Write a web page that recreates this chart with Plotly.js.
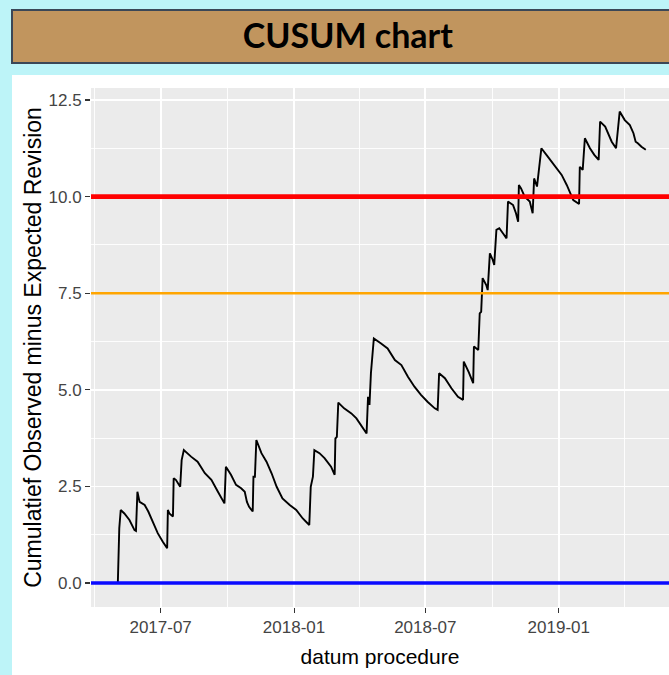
<!DOCTYPE html>
<html>
<head>
<meta charset="utf-8">
<script src="https://cdn.plot.ly/plotly-3.0.1.min.js"></script>
<style>
html, body { margin: 0; padding: 0; background: #bdf4f8; overflow: hidden; }
#chart { width: 669px; height: 675px; }
</style>
</head>
<body>
<div id="chart"></div>
<script>
// ---- data ----
const procedureDates = [
  '2017-05-03','2017-05-04','2017-05-05','2017-05-07','2017-05-12','2017-05-19','2017-05-26','2017-05-28',
  '2017-05-30','2017-06-02','2017-06-09','2017-06-14','2017-06-20','2017-06-27','2017-07-04','2017-07-10',
  '2017-07-11','2017-07-13','2017-07-18','2017-07-19','2017-07-22','2017-07-26','2017-07-28','2017-07-30',
  '2017-08-02','2017-08-12','2017-08-21','2017-08-31','2017-09-09','2017-09-18','2017-09-27','2017-09-29',
  '2017-10-06','2017-10-13','2017-10-20','2017-10-25','2017-10-28','2017-10-31','2017-11-05','2017-11-06',
  '2017-11-08','2017-11-10','2017-11-17','2017-11-24','2017-12-01','2017-12-08','2017-12-16','2017-12-26',
  '2018-01-04','2018-01-13','2018-01-22','2018-01-24','2018-01-27','2018-01-29','2018-02-05','2018-02-12',
  '2018-02-21','2018-02-26','2018-02-27','2018-03-01','2018-03-03','2018-03-11','2018-03-21','2018-03-28',
  '2018-04-04','2018-04-11','2018-04-13','2018-04-15','2018-04-17','2018-04-21','2018-05-01','2018-05-10',
  '2018-05-20','2018-05-29','2018-06-07','2018-06-16','2018-06-25','2018-07-04','2018-07-14','2018-07-18',
  '2018-07-20','2018-07-28','2018-08-06','2018-08-15','2018-08-22','2018-08-23','2018-08-30','2018-09-05',
  '2018-09-06','2018-09-12','2018-09-14','2018-09-16','2018-09-18','2018-09-23','2018-09-25','2018-09-28',
  '2018-10-02','2018-10-04','2018-10-07','2018-10-11','2018-10-16','2018-10-21','2018-10-23','2018-10-30',
  '2018-11-03','2018-11-06','2018-11-07','2018-11-10','2018-11-15','2018-11-22','2018-11-26','2018-11-28',
  '2018-12-02','2018-12-05','2018-12-08','2018-12-15','2018-12-22','2018-12-29','2019-01-05','2019-01-12',
  '2019-01-16','2019-01-21','2019-01-29','2019-01-30','2019-02-03','2019-02-06','2019-02-13','2019-02-19',
  '2019-02-25','2019-02-27','2019-03-06','2019-03-10','2019-03-15','2019-03-21','2019-03-23','2019-03-26',
  '2019-04-02','2019-04-09','2019-04-14','2019-04-17','2019-04-20','2019-04-25','2019-05-01'
];
const cusumValues = [
  0.00, 0.94, 1.42, 1.89, 1.80, 1.63, 1.37, 1.35,
  2.36, 2.10, 2.02, 1.85, 1.59, 1.29, 1.07, 0.90,
  1.89, 1.80, 1.72, 2.71, 2.67, 2.54, 2.49, 3.18,
  3.44, 3.27, 3.14, 2.84, 2.67, 2.36, 2.06, 3.01,
  2.80, 2.54, 2.45, 2.36, 2.10, 1.97, 1.85, 2.75,
  2.75, 3.70, 3.36, 3.14, 2.84, 2.49, 2.19, 2.02,
  1.89, 1.67, 1.50, 2.49, 2.75, 3.44, 3.36, 3.23,
  3.01, 2.80, 3.74, 3.78, 4.67, 4.52, 4.39, 4.26,
  4.05, 3.87, 4.82, 4.61, 5.43, 6.33, 6.20, 6.07,
  5.77, 5.64, 5.34, 5.08, 4.87, 4.69, 4.52, 4.48,
  5.43, 5.30, 5.04, 4.82, 4.74, 5.73, 5.45, 5.17,
  6.12, 6.03, 6.98, 7.02, 7.89, 7.71, 7.58, 8.53,
  8.36, 8.23, 9.14, 9.18, 9.05, 8.92, 9.87, 9.78,
  9.57, 9.35, 10.30, 10.21, 10.00, 9.87, 9.57, 10.47,
  10.26, 10.77, 11.25, 11.08, 10.90, 10.73, 10.56, 10.30,
  10.13, 9.91, 9.81, 10.77, 10.69, 11.51, 11.25, 11.08,
  10.95, 11.94, 11.81, 11.64, 11.42, 11.25, 11.64, 12.20,
  11.98, 11.85, 11.64, 11.42, 11.38, 11.29, 11.21
];
const limitLevels = [0, 7.5, 10];
const xAxisRange = ['2017-03-27', '2019-06-02'];
const yAxisRange = [-0.621, 12.81];
const yTicks = [0, 2.5, 5, 7.5, 10, 12.5];
const chartTitle = 'CUSUM chart';
const xTitle = 'datum procedure';
const yTitle = 'Cumulatief Observed minus Expected Revision';

// ---- styles ----
const limitColors = ['#0a0aff', '#ffa500', '#ff0000'];
const limitWidths = [3.6, 2.4, 4.6];
const axisFont = 'Liberation Sans, Arial, sans-serif';

const traces = [{
  type: 'scatter', mode: 'lines',
  x: procedureDates, y: cusumValues,
  line: {color: '#000000', width: 1.9},
  hoverinfo: 'skip'
}];
limitLevels.forEach((lv, i) => {
  traces.push({
    type: 'scatter', mode: 'lines',
    x: xAxisRange, y: [lv, lv],
    line: {color: limitColors[i], width: limitWidths[i]},
    hoverinfo: 'skip'
  });
});

const layout = {
  width: 669, height: 675,
  margin: {l: 91, r: 0, t: 88, b: 68, pad: 0},
  paper_bgcolor: '#ffffff',
  plot_bgcolor: '#ebebeb',
  showlegend: false,
  title: {
    text: chartTitle,
    font: {family: 'Lato, sans-serif', size: 34, color: '#000000', weight: 700},
    xref: 'container', x: 0.52, xanchor: 'center',
    yref: 'container', y: 1 - 36 / 675, yanchor: 'middle'
  },
  xaxis: {
    type: 'date', range: xAxisRange, autorange: false,
    tick0: '2017-01-01', dtick: 'M6', tickformat: '%Y-%m',
    ticks: 'outside', ticklen: 5, tickwidth: 1.1, tickcolor: '#333333',
    tickfont: {family: axisFont, size: 17, color: '#444444'},
    showgrid: true, gridcolor: '#ffffff', gridwidth: 1.8,
    minor: {tick0: '2017-01-01', dtick: 'M3', showgrid: true, gridcolor: '#ffffff', gridwidth: 0.9, ticks: ''},
    zeroline: false, showline: false, automargin: false, fixedrange: true,
    title: {text: xTitle, font: {family: axisFont, size: 21, color: '#000000'}, standoff: 12}
  },
  yaxis: {
    range: yAxisRange, autorange: false,
    tickvals: yTicks, tickformat: '.1f',
    ticks: 'outside', ticklen: 5, tickwidth: 1.1, tickcolor: '#333333',
    tickfont: {family: axisFont, size: 17, color: '#444444'},
    showgrid: true, gridcolor: '#ffffff', gridwidth: 1.8,
    minor: {tick0: 0, dtick: 1.25, showgrid: true, gridcolor: '#ffffff', gridwidth: 0.9, ticks: ''},
    zeroline: false, showline: false, automargin: false, fixedrange: true,
    title: {text: yTitle, font: {family: axisFont, size: 23, color: '#000000'}, standoff: 0}
  },
  shapes: [
    // cyan frame: left strip and top band
    {type: 'rect', xref: 'paper', yref: 'paper', x0: -0.2, x1: (12 - 91) / 578, y0: -0.2, y1: 1.25,
     fillcolor: '#bdf4f8', line: {width: 0}, layer: 'above'},
    {type: 'rect', xref: 'paper', yref: 'paper', x0: -0.2, x1: 1.2, y0: (607 - 75) / 519, y1: 1.25,
     fillcolor: '#bdf4f8', line: {width: 0}, layer: 'above'},
    // brown title banner
    {type: 'rect', xref: 'paper', yref: 'paper', x0: (12 - 91) / 578, x1: 1.1, y0: (607 - 63) / 519, y1: (607 - 10) / 519,
     fillcolor: '#c1955e', line: {color: '#3b4757', width: 2}, layer: 'above'}
  ]
};

Plotly.newPlot('chart', traces, layout, {displayModeBar: false, staticPlot: true});
</script>
</body>
</html>
